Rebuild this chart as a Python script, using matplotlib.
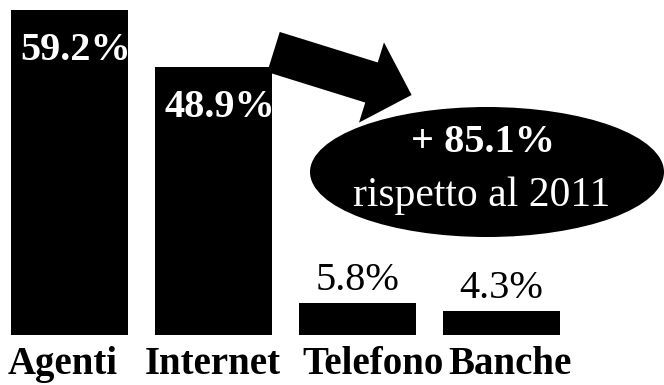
import matplotlib.pyplot as plt
from matplotlib.patches import Ellipse, FancyArrow
from matplotlib.transforms import ScaledTranslation

# ---------------- DATA ----------------
categories = ["Agenti", "Internet", "Telefono", "Banche"]
shares = [59.2, 48.9, 5.8, 4.3]
share_labels = ["59.2%", "48.9%", "5.8%", "4.3%"]
growth_label = "+ 85.1%"
growth_note = "rispetto al 2011"

SERIF = ["Liberation Serif", "DejaVu Serif"]
W, H = 664, 385
DPI = 100

fig = plt.figure(figsize=(W / DPI, H / DPI), dpi=DPI)

# bar axes: x unit = 144 px, bars sit on y = 335 px from top
x0 = 69.5 / 144
ax = fig.add_axes([0, 50 / H, 1, 325 / H])
ax.set_xlim(-x0, (W - 69.5) / 144)
ax.set_ylim(0, max(shares))
ax.axis("off")

pos = list(range(len(categories)))
bars = ax.bar(pos, shares, width=0.81, color="black", clip_on=False)


def shift(dx, dy):
    # offset in pixels
    return ax.transData + ScaledTranslation(dx / DPI, dy / DPI, fig.dpi_scale_trans)


# value labels: inside the tall bars, above the short ones
for bar, lab, v in zip(bars, share_labels, shares):
    left = bar.get_x()
    if v > 20:
        t = ax.text(left, v, lab, ha="left", va="top", color="white",
                    fontsize=29, fontweight="bold", family=SERIF,
                    transform=shift(9, -22))
        t.set_clip_path(bar)
    else:
        ax.text(bar.get_x() + bar.get_width() / 2, v, lab, ha="center", va="bottom",
                color="black", fontsize=29, family=SERIF, transform=shift(0, 4))

# category names under the bars
name_dx = [-7, -1, 16, 9]
for p, name, dx in zip(pos, categories, name_dx):
    ax.text(p, 0, name, ha="center", va="baseline", fontsize=28, fontweight="bold",
            family=SERIF, transform=shift(dx, -39))

# overlay in pixel coordinates for the arrow and the ellipse
ov = fig.add_axes([0, 0, 1, 1])
ov.set_xlim(0, W)
ov.set_ylim(H, 0)
ov.axis("off")

ov.add_patch(FancyArrow(273.5, 52, 98, 30.5, width=42, head_width=84,
                        head_length=42, length_includes_head=False,
                        color="black", lw=0))
ov.add_patch(Ellipse((487, 172), 354, 130, color="black", lw=0))
ov.text(483, 143, growth_label, ha="center", va="center", color="white",
        fontsize=29, fontweight="bold", family=SERIF)
ov.text(482, 196, growth_note, ha="center", va="center", color="white",
        fontsize=30, family=SERIF)

fig.savefig("out.png", dpi=DPI)
